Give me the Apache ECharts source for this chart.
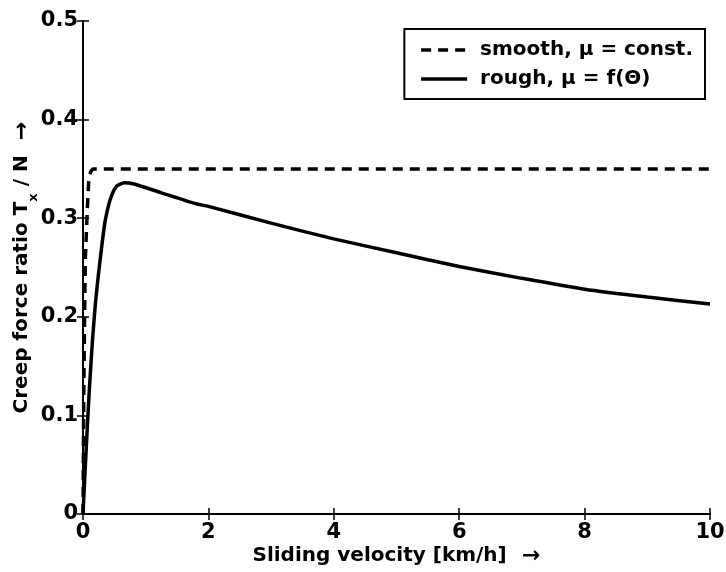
<!DOCTYPE html>
<html>
<head>
<meta charset="utf-8">
<script src="https://cdn.jsdelivr.net/npm/echarts@6/dist/echarts.min.js"></script>
<style>
  html, body { margin: 0; padding: 0; background: #fff; }
  #chart { width: 726px; height: 572px; }
</style>
</head>
<body>
<div id="chart"></div>
<script>
// Creep force ratio vs. sliding velocity for a smooth and a rough wheel/rail contact.
const smoothVelocity = [0, 0.012, 0.025, 0.037, 0.068, 0.09, 0.12, 0.16, 10];
const smoothRatio    = [0, 0.12, 0.2, 0.258, 0.308, 0.336, 0.347, 0.35, 0.35];

const roughVelocity = [0, 0.05, 0.1, 0.15, 0.2, 0.25, 0.3, 0.35, 0.43, 0.53, 0.66, 0.8, 1.24, 1.78, 2, 3, 4, 5, 6, 7, 8, 9, 10];
const roughRatio    = [0, 0.065, 0.125, 0.175, 0.215, 0.245, 0.272, 0.296, 0.318, 0.332, 0.336, 0.335, 0.326, 0.315, 0.312, 0.295, 0.279, 0.265, 0.251, 0.239, 0.228, 0.22, 0.213];

const xTicks = [0, 2, 4, 6, 8, 10];
const yTicks = [0, 0.1, 0.2, 0.3, 0.4, 0.5];

const seriesNames = ['smooth, \u03bc = const.', 'rough, \u03bc = f(\u0398)'];

const pairs = (xs, ys) => xs.map((x, i) => [x, ys[i]]);

const font = '"DejaVu Sans", "Liberation Sans", Arial, sans-serif';
const axisCommon = {
  axisLine: { lineStyle: { color: '#000', width: 2 } },
  axisTick: { inside: true, length: 6, lineStyle: { color: '#000', width: 1.5 } },
  splitLine: { show: false },
  nameMoveOverlap: false
};
const nameRich = {
  t: { fontFamily: font, fontSize: 20, fontWeight: 'bold', color: '#000' },
  s: { fontFamily: font, fontSize: 13, fontWeight: 'bold', color: '#000', verticalAlign: 'bottom', padding: [0, 0, -7, 0] },
  a: { fontFamily: '"DejaVu Sans", sans-serif', fontSize: 22, fontWeight: 'bold', color: '#000' }
};

const chart = echarts.init(document.getElementById('chart'), null, { renderer: 'canvas' });
chart.setOption({
  animation: false,
  backgroundColor: '#fff',
  grid: { left: 83, right: 16, top: 21, bottom: 58, containLabel: false, outerBoundsMode: 'none' },
  legend: {
    data: seriesNames,
    orient: 'vertical',
    right: 21,
    top: 29,
    itemWidth: 46,
    itemHeight: 14,
    itemGap: 9,
    padding: [11, 12, 10, 15],
    backgroundColor: '#fff',
    borderColor: '#000',
    borderWidth: 2,
    borderRadius: 0,
    itemStyle: { opacity: 0 },
    lineStyle: { width: 3.5 },
    textStyle: { fontFamily: font, fontSize: 20, fontWeight: 'bold', color: '#000', padding: [0, 0, 0, 8] }
  },
  xAxis: [
    Object.assign({
      type: 'value', min: xTicks[0], max: xTicks[xTicks.length - 1], interval: 2,
      name: '{t|Sliding velocity [km/h]}{a|  \u2192}',
      nameLocation: 'middle', nameGap: 31,
      nameTextStyle: { rich: nameRich },
      axisLabel: { fontFamily: font, fontSize: 21, fontWeight: 'bold', color: '#000', margin: 8 }
    }, axisCommon),
    Object.assign({
      type: 'value', position: 'top', min: xTicks[0], max: xTicks[xTicks.length - 1], interval: 2,
      axisLabel: { show: false }
    }, axisCommon)
  ],
  yAxis: [
    Object.assign({
      type: 'value', min: yTicks[0], max: yTicks[yTicks.length - 1], interval: 0.1,
      name: '{t|Creep force ratio T}{s|x}{t| / N}{a|  \u2192}',
      nameLocation: 'middle', nameGap: 50, nameRotate: 90,
      nameTextStyle: { rich: nameRich },
      axisLabel: { fontFamily: font, fontSize: 21, fontWeight: 'bold', color: '#000', margin: 5,
        formatter: v => (Math.round(v * 10) / 10).toString() }
    }, axisCommon),
    Object.assign({
      type: 'value', position: 'right', min: yTicks[0], max: yTicks[yTicks.length - 1], interval: 0.1,
      axisLabel: { show: false }
    }, axisCommon)
  ],
  series: [
    {
      name: seriesNames[0], type: 'line', symbol: 'none',
      data: pairs(smoothVelocity, smoothRatio),
      lineStyle: { color: '#000', width: 3.5, type: [10, 7] },
      itemStyle: { color: '#000' }
    },
    {
      name: seriesNames[1], type: 'line', symbol: 'none', smooth: 0.2,
      data: pairs(roughVelocity, roughRatio),
      lineStyle: { color: '#000', width: 3.5, type: 'solid' },
      itemStyle: { color: '#000' }
    }
  ]
});
</script>
</body>
</html>
